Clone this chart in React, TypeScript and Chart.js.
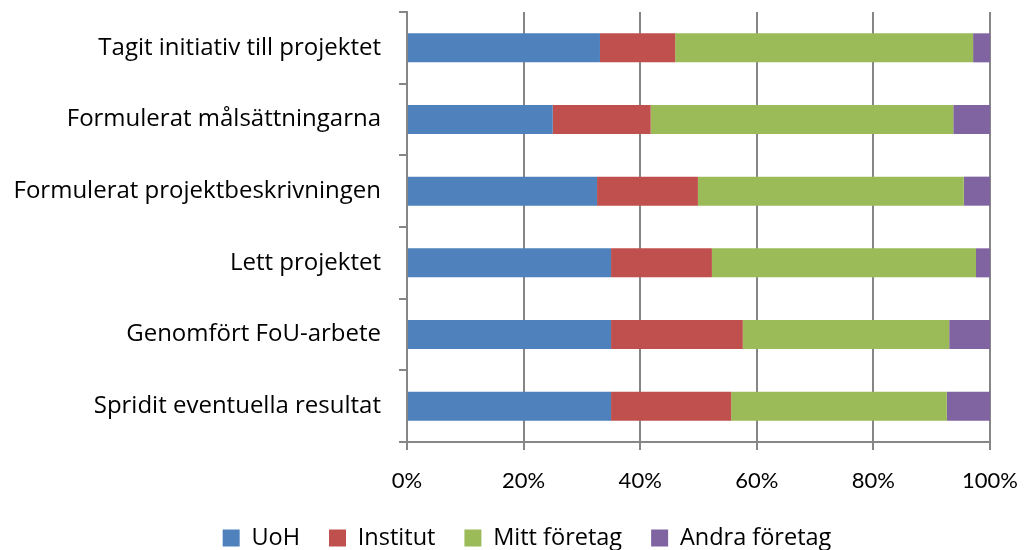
import React, { useEffect, useRef } from "react";
import { Chart, registerables } from "chart.js";

Chart.register(...registerables);

const categories = [
  "Tagit initiativ till projektet",
  "Formulerat målsättningarna",
  "Formulerat projektbeskrivningen",
  "Lett projektet",
  "Genomfört FoU-arbete",
  "Spridit eventuella resultat",
];
const seriesNames = ["UoH", "Institut", "Mitt företag", "Andra företag"];
const uoh = [33.1, 25.0, 32.6, 35.0, 35.0, 35.0];
const institut = [12.9, 16.8, 17.3, 17.3, 22.6, 20.6];
const mittForetag = [51.1, 51.9, 45.6, 45.3, 35.4, 37.0];
const andraForetag = [2.9, 6.3, 4.5, 2.4, 7.0, 7.4];
const seriesColors = ["#4F81BD", "#C0504D", "#9BBB59", "#8064A2"];
const xTickStep = 20;

const LABEL_FONT = "'Open Sans', 'Liberation Sans', sans-serif";
const TICK_FONT = "Lato, 'Liberation Sans', sans-serif";
const AXIS = "#868686";

export default function App() {
  const ref = useRef<HTMLCanvasElement | null>(null);

  useEffect(() => {
    if (!ref.current) return;
    const padLeft = 64;
    const legendFont = 23.5;
    const legendPad = 29;
    const legendH = legendFont + legendPad + 10;
    const legendTop = 538 - legendPad - legendFont / 2;
    const padBottom = 550 - legendH - legendTop;
    const chartBottom = 442;
    const unclipLabels = {
      id: "unclipLabels",
      afterLayout(c: any) {
        c.scales.y.left = 0;
      },
    };
    const chart = new Chart(ref.current, {
      type: "bar",
      data: {
        labels: categories,
        datasets: [uoh, institut, mittForetag, andraForetag].map((d, i) => ({
          label: seriesNames[i],
          data: d,
          backgroundColor: seriesColors[i],
          borderWidth: 0,
          categoryPercentage: 1,
          barPercentage: 0.405,
        })),
      },
      options: {
        indexAxis: "y",
        responsive: false,
        animation: false,
        layout: { padding: { left: padLeft, right: 35, top: 12, bottom: padBottom } },
        plugins: {
          tooltip: { enabled: false },
          legend: {
            position: "bottom",
            labels: {
              boxWidth: 17,
              boxHeight: 17,
              padding: legendPad,
              color: "#000",
              font: { family: LABEL_FONT, size: legendFont },
            },
          },
        },
        scales: {
          x: {
            stacked: true,
            min: 0,
            max: 100,
            ticks: {
              stepSize: xTickStep,
              callback: (v: any) => v + "%",
              color: "#000",
              font: { family: TICK_FONT, size: 22 },
              padding: 18,
              maxRotation: 0,
            },
            grid: { color: AXIS, lineWidth: 2, tickLength: 8 },
            border: { color: AXIS, width: 2 },
            afterFit: (s: any) => {
              s.height = legendTop - chartBottom;
              s.paddingLeft = 0;
              s.paddingRight = 0;
            },
          },
          y: {
            stacked: true,
            ticks: {
              color: "#000",
              font: { family: LABEL_FONT, size: 24 },
              padding: 18,
            },
            grid: {
              drawOnChartArea: false,
              color: AXIS,
              lineWidth: 2,
              tickLength: 8,
              offset: true,
            },
            border: { color: AXIS, width: 2 },
            afterFit: (s: any) => {
              s.width = 407 - padLeft;
              s.paddingTop = 0;
              s.paddingBottom = 0;
            },
          },
        },
      },
      plugins: [unclipLabels],
    });
    return () => chart.destroy();
  }, []);

  return (
    <div style={{ position: "absolute", left: 0, top: 0, width: 1025, height: 550, background: "#fff" }}>
      <canvas ref={ref} width={1025} height={550} style={{ display: "block" }} />
    </div>
  );
}
